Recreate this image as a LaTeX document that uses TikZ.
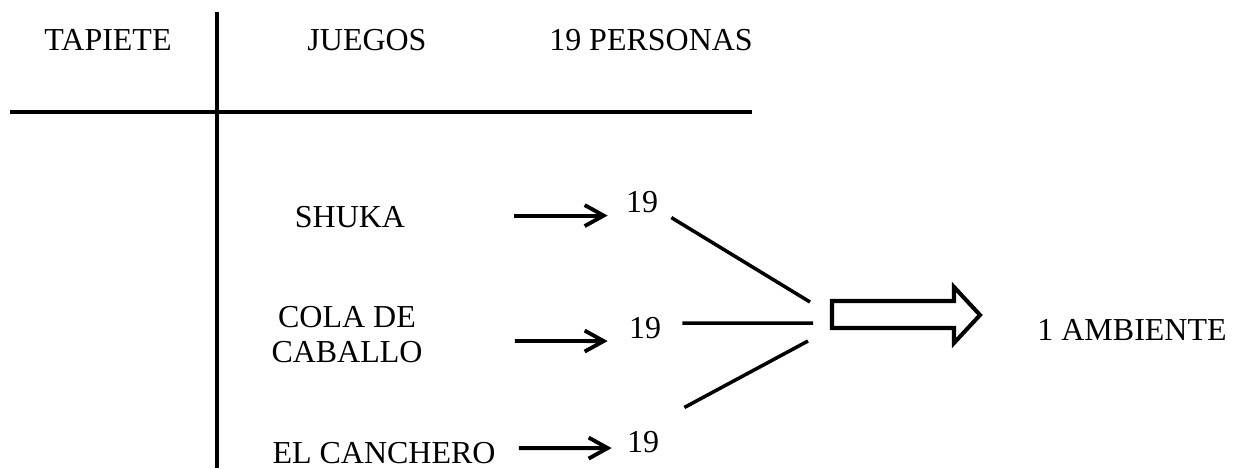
\documentclass[tikz,border=0pt]{standalone}
\usepackage{fontspec}
\setmainfont{Liberation Serif}
\usetikzlibrary{arrows.meta,positioning}
\definecolor{tapink}{RGB}{0,0,0}

\begin{document}
\begin{tikzpicture}[
  x=0.02cm, y=-0.02cm,
  font=\fontsize{18.2}{19.9}\selectfont,
  tabtext/.style={inner sep=0pt, text=tapink},
  tabrule/.style={draw=tapink, line width=2.3pt},
  flow/.style={-{Straight Barb[length=3.8mm,width=4.2mm]}, line width=2.2pt, draw=tapink},
  mergeline/.style={draw=tapink, line width=2pt},
  blockarrow/.style={draw=tapink, line width=2.3pt, miter limit=10}
]
\useasboundingbox (0,0) rectangle (1233,468);

% table frame
\draw[tabrule] (217,12) -- (217,468);
\draw[tabrule] (10,112) -- (752,112);

\node[tabtext, anchor=base] (tapiete) at (108,50) {TAPIETE};
\node[tabtext, anchor=base] (juegos) at (367,50) {JUEGOS};
\node[tabtext, anchor=base] (personas) at (651,50) {19 PERSONAS};

% games
\node[tabtext, anchor=base] (shuka) at (350,227) {SHUKA};
\node[tabtext, align=center] (cola) at (347,335) {COLA DE\\CABALLO};
\node[tabtext, anchor=base] (canchero) at (384,463) {EL CANCHERO};

\node[tabtext, anchor=base] (n1) at (642,212) {19};
\node[tabtext, anchor=base] (n2) at (645,338) {19};
\node[tabtext, anchor=base] (n3) at (643,452) {19};

\draw[flow] ([shift={(109,-1)}]shuka.east) -- ([shift={(-18,14)}]n1.west);
\draw[flow] ([shift={(92,6)}]cola.east) -- ([shift={(-21,13.5)}]n2.west);
\draw[flow] ([shift={(23,-4.5)}]canchero.east) -- ([shift={(-15,6.5)}]n3.west);

\coordinate (j1) at (810,302);
\coordinate (j2) at (813,323);
\coordinate (j3) at (808,341);
\draw[mergeline] ([shift={(13,16)}]n1.east) -- (j1);
\draw[mergeline] ([shift={(21,-4.5)}]n2.east) -- (j2);
\draw[mergeline] ([shift={(25,-23)}]n3.north east) -- (j3);

\draw[blockarrow] (832,301) -- (954,301) -- (954,287) -- (980,315)
  -- (954,343) -- (954,328) -- (832,328) -- cycle;

\node[tabtext, anchor=base] (ambiente) at (1132,340) {1 AMBIENTE};
\end{tikzpicture}
\end{document}
